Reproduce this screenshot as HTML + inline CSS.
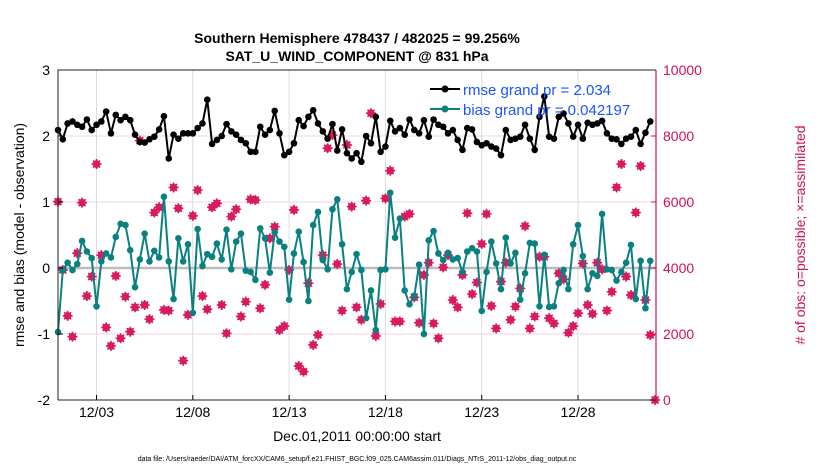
<!DOCTYPE html>
<html><head><meta charset="utf-8"><style>
body{margin:0;background:#fff;}
svg{display:block;font-family:"Liberation Sans",sans-serif;}
</style></head><body>
<svg id="chart" width="830" height="470" viewBox="0 0 830 470">
<text x="357" y="43" text-anchor="middle" font-size="14" font-weight="bold">Southern Hemisphere 478437 / 482025 = 99.256%</text>
<text x="357" y="61" text-anchor="middle" font-size="14" font-weight="bold">SAT_U_WIND_COMPONENT @ 831 hPa</text>
<g id="grid"></g><g id="marks"></g><g id="axes"></g>
<text transform="translate(24,235) rotate(-90)" text-anchor="middle" font-size="14">rmse and bias (model - observation)</text>
<text transform="translate(805,235) rotate(-90)" text-anchor="middle" font-size="14" fill="#d0105a"># of obs: o=possible; ×=assimilated</text>
<text x="357" y="441" text-anchor="middle" font-size="14">Dec.01,2011 00:00:00 start</text>
<text x="357" y="461" text-anchor="middle" font-size="7">data file: /Users/raeder/DAI/ATM_forcXX/CAM6_setup/f.e21.FHIST_BGC.f09_025.CAM6assim.011/Diags_NTrS_2011-12/obs_diag_output.nc</text>
<g>
<line x1="430" y1="89" x2="460" y2="89" stroke="#000" stroke-width="2"/><circle cx="445" cy="89" r="3.5" fill="#000"/>
<text x="463" y="95" font-size="15" fill="#1a55ff">rmse grand pr = 2.034</text>
<line x1="430" y1="109" x2="460" y2="109" stroke="#0a8080" stroke-width="2"/><circle cx="445" cy="109" r="3.5" fill="#0a8080"/>
<text x="463" y="115" font-size="15" fill="#1a55ff">bias grand pr = 0.042197</text>
</g>
</svg>
<script>
const rmse=[2.09,1.95,2.19,2.22,2.17,2.14,2.25,2.09,2.17,2.22,2.37,2.04,2.32,2.24,2.29,2.24,2.02,1.91,1.90,1.95,1.99,2.10,2.30,1.66,2.02,1.96,2.04,2.04,2.04,2.12,2.19,2.55,
1.88,1.94,2.00,2.18,2.07,2.02,1.94,1.89,1.76,1.76,2.14,2.02,2.09,2.38,2.04,1.71,1.76,1.89,2.24,2.15,2.29,2.39,2.19,2.07,1.96,2.18,1.78,2.10,1.74,1.66,
1.74,1.61,2.00,1.89,2.29,1.76,1.84,2.23,2.07,2.12,2.02,2.25,2.09,2.04,2.24,1.99,2.25,2.17,2.14,2.04,2.09,1.94,1.79,2.12,2.10,1.91,1.86,1.89,1.84,1.81,1.71,2.09,
1.94,1.96,1.99,2.17,1.96,1.79,2.29,2.60,1.99,1.96,2.29,2.34,2.19,1.99,2.17,1.96,2.20,2.17,2.19,2.23,2.04,1.96,1.95,1.88,1.96,1.99,2.09,1.88,2.05,2.22];
const bias=[-0.97,-0.03,0.08,-0.03,0.06,0.41,0.25,0.15,-0.58,0.10,0.22,0.16,0.47,0.67,0.65,0.27,-0.29,0.13,0.52,0.10,0.26,0.16,1.08,0.10,-0.47,0.45,0.10,0.36,-0.68,0.59,0.03,0.21,
0.17,0.37,0.13,0.58,-0.02,0.40,0.52,-0.04,-0.06,-0.18,0.60,0.45,-0.07,0.54,0.40,0.32,-0.48,0.22,0.55,0.09,-0.50,0.65,0.85,0.12,-0.02,0.89,1.04,0.36,-0.32,-0.06,
0.21,-0.03,-0.76,-0.34,-0.94,-0.03,-0.02,1.14,0.46,0.75,-0.34,-0.55,-0.42,0.05,-1.00,0.42,0.56,0.22,0.12,0.23,0.13,0.15,-0.06,0.25,0.30,0.25,-0.65,-0.06,0.40,0.07,-0.32,0.46,
0.07,0.23,-0.48,-0.08,0.38,0.37,-0.58,0.20,-0.59,-0.58,-0.23,-0.03,-0.32,0.36,0.65,0.18,-0.32,-0.08,-0.12,0.82,-0.02,-0.03,-0.19,-0.06,0.08,0.35,-0.47,0.11,-0.61,0.11];
const nobs=[6010,3940,2550,1920,4450,5980,3150,3740,7150,4390,2200,1640,3760,1870,3130,2070,2810,7860,2880,2450,5680,5840,2730,2710,6440,5810,1190,2580,5580,6360,3150,2750,
5840,5960,2880,2020,5560,5780,2530,2980,6080,6060,2780,3490,4900,5250,2120,2240,3940,5760,1030,860,3540,1670,1970,4390,7630,8030,4120,2710,7730,5860,
2810,2430,6040,8690,1940,2910,6110,6950,2380,2380,5560,5640,3110,2340,3790,4160,2320,1870,4020,4390,3030,2810,3790,5660,3210,3560,4730,5640,2850,2170,3590,4160,
2430,2830,3380,5270,2170,2530,4340,4340,2480,2320,3840,3660,2040,2240,2630,4140,2880,2610,4160,3960,2710,3280,6440,7150,3740,3180,5680,7090,3030,1970,0];
const leftTicks=[3,2,1,0,-1,-2];
const rightTicks=[10000,8000,6000,4000,2000,0];
const xTickDays=[2,7,12,17,22,27];
const xTickLabels=["12/03","12/08","12/13","12/18","12/23","12/28"];
const stepDays=0.25;

const L=58,R=656,T=70,B=400,NS="http://www.w3.org/2000/svg";
const xs=d=>L+d*19.26;
const yl=v=>T+(3-v)/5*(B-T);
const yr=v=>B-v/10000*(B-T);
function mk(tag,at,parent){const e=document.createElementNS(NS,tag);for(const k in at)e.setAttribute(k,at[k]);parent.appendChild(e);return e;}
const grid=document.getElementById('grid'),marks=document.getElementById('marks'),axes=document.getElementById('axes');
xTickDays.forEach((d,i)=>{
 const g=mk('line',{x1:xs(d),x2:xs(d),y1:T,y2:B,stroke:'#dcdcdc','stroke-width':1},grid);
 
 
 const t=mk('line',{x1:xs(d),x2:xs(d),y1:B,y2:B-5,stroke:'#000'},axes);
 
 
 const tx=mk('text',{x:xs(d),y:417,'text-anchor':'middle','font-size':14},axes);tx.textContent=xTickLabels[i];
 
 
});
rightTicks.forEach(v=>{
 if(v>0&&v<10000){const g=mk('line',{x1:L,x2:R,y1:yr(v),y2:yr(v),stroke:'#f0d6e0','stroke-width':1},grid);
 
 }
 const t=mk('line',{x1:R,x2:R-5,y1:yr(v),y2:yr(v),stroke:'#d0105a'},axes);
 
 
 const tx=mk('text',{x:663,y:yr(v)+5,'font-size':14,fill:'#d0105a'},axes);tx.textContent=v;
 
 
});
leftTicks.forEach(v=>{
 const t=mk('line',{x1:L,x2:L+5,y1:yl(v),y2:yl(v),stroke:'#000'},axes);
 
 
 const tx=mk('text',{x:50,y:yl(v)+5,'text-anchor':'end','font-size':14},axes);tx.textContent=v;
 
 
});
const zl=mk('line',{x1:L,x2:R,y1:yl(0),y2:yl(0),stroke:'#bbb','stroke-width':2.5},grid);


nobs.forEach((v,i)=>{
 const cx=xs(i*stepDays),cy=yr(v);
 const g=mk('g',{fill:'none',stroke:'#d81b60','stroke-width':1.6},marks);
 
 
 mk('circle',{cx:cx,cy:cy,r:3,fill:'#d81b60'},g);
 mk('path',{d:`M${cx-5},${cy}H${cx+5}M${cx},${cy-5}V${cy+5}M${cx-3.5},${cy-3.5}L${cx+3.5},${cy+3.5}M${cx-3.5},${cy+3.5}L${cx+3.5},${cy-3.5}`},g);
});
function series(arr,color,name){
 const pl=mk('polyline',{points:arr.map((v,i)=>xs(i*stepDays)+','+yl(v)).join(' '),fill:'none',stroke:color,'stroke-width':2},marks);
 
 
 arr.forEach((v,i)=>{const c=mk('circle',{cx:xs(i*stepDays),cy:yl(v),r:3.3,fill:color},marks);
 
 });
}
series(rmse,'#000','rmse');
series(bias,'#0a8080','bias');
const fr=mk('path',{d:`M${L},${B}V${T}H${R}M${L},${B}H${R}`,fill:'none',stroke:'#222','stroke-width':1},axes);


const ra=mk('line',{x1:R,x2:R,y1:T,y2:B,stroke:'#d0105a','stroke-width':1.2},axes);


</script>
</body></html>
